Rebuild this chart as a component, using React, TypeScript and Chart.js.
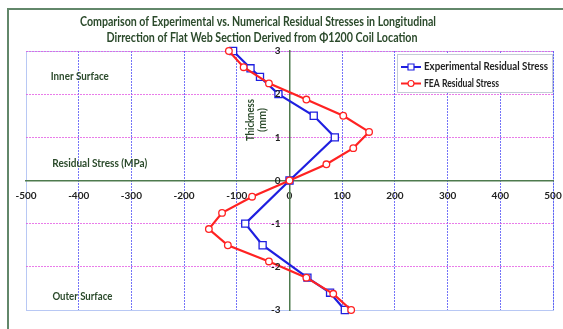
import React, { useEffect, useRef } from "react";
import { Chart, registerables } from "chart.js";

Chart.register(...registerables);

// ---- Data ----
const expStress = [-107, -74, -56, -21, 46, 86, 0, -84, -51, 34, 77, 105];
const expThickness = [3, 2.6, 2.4, 2, 1.5, 1, 0, -1, -1.5, -2.25, -2.6, -3];

const feaStress = [-115, -87, -39, 32, 102, 151, 121, 70, 0, -71, -128, -153, -117, -39, 32, 83, 117];
const feaThickness = [3, 2.625, 2.25, 1.875, 1.5, 1.125, 0.75, 0.375, 0, -0.375, -0.75, -1.125, -1.5, -1.875, -2.25, -2.625, -3];

const xTickValues = [-500, -400, -300, -200, -100, 0, 100, 200, 300, 400, 500];
const yTickValues = [-3, -2, -1, 0, 1, 2, 3];

const seriesNames = ["Experimental Residual Stress", "FEA Residual Stress"];
const titleLines = [
  "Comparison of Experimental vs. Numerical Residual Stresses in Longitudinal",
  "Dirrection of Flat Web Section Derived from \u03A61200 Coil Location",
];
const yTitleLines = ["Thickness", "(mm)"];
const innerLabel = "Inner Surface";
const outerLabel = "Outer Surface";
const xTitle = "Residual Stress (MPa)";

const GREEN_TEXT = "#2b4a2b";
const BLUE = "#1f1fe0";
const RED = "#ff2222";
const TICK_FONT = "bold 10px Lato, 'Open Sans', sans-serif";

const zeroPad = (s: any) => {
  s.paddingLeft = 0;
  s.paddingRight = 0;
  s.paddingTop = 0;
  s.paddingBottom = 0;
};

const decorPlugin = {
  id: "decor",
  beforeDraw(chart: any) {
    const ctx = chart.ctx;
    ctx.save();
    ctx.fillStyle = "#ffffff";
    ctx.fillRect(0, 0, chart.width, chart.height);
    ctx.strokeStyle = "#62876a";
    ctx.lineWidth = 2;
    ctx.strokeRect(8, 9, 700, 500);
    const a = chart.chartArea;
    ctx.strokeStyle = "#b8c8f4";
    ctx.lineWidth = 1;
    ctx.strokeRect(a.left + 0.5, a.top + 0.5, a.right - a.left, a.bottom - a.top);
    ctx.fillStyle = GREEN_TEXT;
    ctx.font = "bold 13px Lato, 'Open Sans', sans-serif";
    ctx.textAlign = "center";
    ctx.textBaseline = "middle";
    ctx.fillText(titleLines[0], 258, 22, 356);
    ctx.fillText(titleLines[1], 262, 38, 311);
    ctx.restore();
  },
  afterDatasetsDraw(chart: any) {
    const ctx = chart.ctx;
    const xs = chart.scales.x;
    const ys = chart.scales.y;
    const x0 = xs.getPixelForValue(0);
    ctx.save();
    ctx.font = TICK_FONT;
    ctx.fillStyle = "#222222";
    ctx.textAlign = "right";
    ctx.textBaseline = "middle";
    ys.ticks.forEach((t: any) => {
      ctx.fillText(String(t.value), x0 - 9, ys.getPixelForValue(t.value));
    });
    ctx.restore();
  },
  afterDraw(chart: any) {
    const ctx = chart.ctx;
    const xs = chart.scales.x;
    const ys = chart.scales.y;
    ctx.save();
    ctx.fillStyle = GREEN_TEXT;
    ctx.font = "bold 10.5px Lato, 'Open Sans', sans-serif";
    ctx.textAlign = "center";
    ctx.textBaseline = "middle";
    ctx.fillText(innerLabel, xs.getPixelForValue(-398), ys.getPixelForValue(2.4), 58);
    ctx.fillText(xTitle, xs.getPixelForValue(-360), ys.getPixelForValue(0.38), 95);
    ctx.fillText(outerLabel, xs.getPixelForValue(-393), ys.getPixelForValue(-2.7), 60);
    const cy = ys.getPixelForValue(1.4);
    ctx.font = "bold 11px Lato, 'Open Sans', sans-serif";
    [xs.getPixelForValue(-74), xs.getPixelForValue(-51)].forEach((px, i) => {
      ctx.save();
      ctx.translate(px, cy);
      ctx.rotate(-Math.PI / 2);
      ctx.fillText(yTitleLines[i], 0, 0, i === 0 ? 42 : 24);
      ctx.restore();
    });
    const lx = 397, ly = 54, lw = 155, lh = 38;
    ctx.fillStyle = "#ffffff";
    ctx.fillRect(lx, ly, lw, lh);
    ctx.strokeStyle = "#c4ccd6";
    ctx.lineWidth = 1;
    ctx.strokeRect(lx + 0.5, ly + 0.5, lw, lh);
    const rows = [
      { y: 67, color: BLUE, shape: "rect" },
      { y: 83.5, color: RED, shape: "circle" },
    ];
    rows.forEach((r, i) => {
      ctx.strokeStyle = r.color;
      ctx.lineWidth = 2;
      ctx.beginPath();
      ctx.moveTo(401, r.y);
      ctx.lineTo(421, r.y);
      ctx.stroke();
      ctx.fillStyle = "#ffffff";
      ctx.lineWidth = 1.2;
      ctx.beginPath();
      if (r.shape === "rect") ctx.rect(408, r.y - 3, 6, 6);
      else ctx.arc(411, r.y, 3, 0, Math.PI * 2);
      ctx.fill();
      ctx.stroke();
      ctx.fillStyle = "#222222";
      ctx.font = "bold 10.5px Lato, 'Open Sans', sans-serif";
      ctx.textAlign = "left";
      ctx.fillText(seriesNames[i], 424, r.y, i === 0 ? 124 : 75);
    });
    ctx.restore();
  },
};

export default function App() {
  const ref = useRef<HTMLCanvasElement | null>(null);
  useEffect(() => {
    if (!ref.current) return;
    const chart = new Chart(ref.current, {
      type: "scatter",
      data: {
        datasets: [
          {
            label: seriesNames[0],
            data: expStress.map((v, i) => ({ x: v, y: expThickness[i] })),
            showLine: true,
            borderColor: BLUE,
            backgroundColor: "#ffffff",
            borderWidth: 2.2,
            pointStyle: "rect",
            pointRadius: 5,
            pointBorderWidth: 1.3,
            pointBorderColor: BLUE,
            pointBackgroundColor: "#ffffff",
            clip: false,
            order: 1,
          },
          {
            label: seriesNames[1],
            data: feaStress.map((v, i) => ({ x: v, y: feaThickness[i] })),
            showLine: true,
            borderColor: RED,
            backgroundColor: "#ffffff",
            borderWidth: 2.2,
            pointStyle: "circle",
            pointRadius: 3.3,
            pointBorderWidth: 1.3,
            pointBorderColor: RED,
            pointBackgroundColor: "#ffffff",
            clip: false,
            order: 0,
          },
        ],
      },
      options: {
        responsive: false,
        animation: false,
        devicePixelRatio: 1,
        layout: { padding: { left: 26, top: 51, right: 10, bottom: 19 } },
        plugins: { legend: { display: false }, title: { display: false }, tooltip: { enabled: false } },
        scales: {
          x: {
            type: "linear",
            position: { y: 0 } as any,
            min: -500,
            max: 500,
            afterBuildTicks: (s: any) => {
              s.ticks = xTickValues.map((v) => ({ value: v }));
            },
            afterFit: zeroPad,
            ticks: {
              padding: 9,
              color: "#222222",
              font: { family: "Lato, 'Open Sans', sans-serif", size: 10, weight: "bold" },
              callback: (v: any) => String(v),
              maxRotation: 0,
            },
            grid: {
              drawTicks: false,
              lineWidth: 1,
              color: (c: any) =>
                c.tick && c.tick.value === 0 ? "rgba(0,0,0,0)" : c.tick && c.tick.value === -500 ? "#b8c8f4" : "rgba(70,70,245,0.75)",
            },
            border: {
              display: true,
              color: "#4e7a4e",
              width: 1.5,
              dash: (c: any) => (c.tick && c.tick.value !== -500 ? [2, 1] : []),
            } as any,
          },
          y: {
            type: "linear",
            position: { x: 0 } as any,
            min: -3,
            max: 3,
            afterBuildTicks: (s: any) => {
              s.ticks = yTickValues.map((v) => ({ value: v }));
            },
            afterFit: zeroPad,
            ticks: {
              color: "rgba(0,0,0,0)",
              font: { family: "Lato, 'Open Sans', sans-serif", size: 10, weight: "bold" },
              callback: (v: any) => String(v),
            },
            grid: {
              drawTicks: false,
              lineWidth: 1,
              color: (c: any) =>
                c.tick && c.tick.value === 0 ? "rgba(0,0,0,0)" : c.tick && c.tick.value === -3 ? "#b8c8f4" : "rgba(225,80,225,0.75)",
            },
            border: {
              display: true,
              color: "#4e7a4e",
              width: 1.5,
              dash: (c: any) => (c.tick && c.tick.value !== -3 ? [2, 1] : []),
            } as any,
          },
        },
      } as any,
      plugins: [decorPlugin],
    });
    return () => chart.destroy();
  }, []);
  return (
    <div style={{ position: "absolute", left: 0, top: 0, width: 563, height: 329 }}>
      <canvas ref={ref} width={563} height={329} />
    </div>
  );
}
